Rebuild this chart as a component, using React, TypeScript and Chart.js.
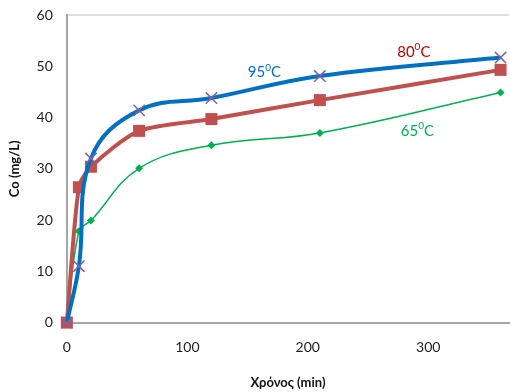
import React, { useEffect, useRef } from "react";
import { Chart, registerables } from "chart.js";

Chart.register(...registerables);

const times = [0, 10, 20, 60, 120, 210, 360];
const c95 = [0, 11, 32, 41.4, 43.8, 48.1, 51.7];
const c80 = [0, 26.4, 30.4, 37.4, 39.7, 43.4, 49.3];
const c65 = [0, 17.8, 19.9, 30.1, 34.6, 37.0, 44.9];
const seriesLabels = ["95", "80", "65"];
const yTicks = [0, 10, 20, 30, 40, 50, 60];
const xTickLabels = [0, 100, 200, 300];

const FONT = "Lato, 'Open Sans', sans-serif";

const labelPlugin = {
  id: "seriesLabels",
  afterDatasetsDraw(chart: any) {
    const { ctx, scales } = chart;
    const xs = scales.x;
    const ys = scales.y;
    const items = [
      { t: seriesLabels[0], x: 164, y: 48.8, color: "#0070C0" },
      { t: seriesLabels[1], x: 288, y: 52.8, color: "#C00000" },
      { t: seriesLabels[2], x: 291, y: 37.4, color: "#00B050" },
    ];
    ctx.save();
    items.forEach((it) => {
      const px = xs.getPixelForValue(it.x);
      const py = ys.getPixelForValue(it.y);
      const big = `15px ${FONT}`;
      const small = `10px ${FONT}`;
      ctx.font = big;
      const w1 = ctx.measureText(it.t).width;
      const w3 = ctx.measureText("C").width;
      ctx.font = small;
      const w2 = ctx.measureText("0").width;
      const total = w1 + w2 + w3;
      let x = px - total / 2;
      ctx.fillStyle = it.color;
      ctx.textBaseline = "middle";
      ctx.textAlign = "left";
      ctx.font = big;
      ctx.fillText(it.t, x, py);
      x += w1;
      ctx.font = small;
      ctx.fillText("0", x, py - 5);
      x += w2;
      ctx.font = big;
      ctx.fillText("C", x, py);
    });
    ctx.restore();
  },
};

export default function App() {
  const ref = useRef<HTMLCanvasElement>(null);
  useEffect(() => {
    document.body.style.margin = "0";
    const toPts = (arr: number[]) => times.map((t, i) => ({ x: t, y: arr[i] }));
    const chart = new Chart(ref.current!, {
      type: "line",
      data: {
        datasets: [
          {
            data: toPts(c95),
            borderColor: "#0070C0",
            borderWidth: 4,
            tension: 0.4,
            pointStyle: "crossRot",
            pointRadius: 8,
            pointBorderColor: "#7F63A1",
            pointBackgroundColor: "#7F63A1",
            pointBorderWidth: 1.5,
          },
          {
            data: toPts(c80),
            borderColor: "#C0504D",
            borderWidth: 4,
            tension: 0.25,
            pointStyle: "rect",
            pointRadius: 8.5,
            pointBorderColor: "#C0504D",
            pointBackgroundColor: "#C0504D",
            pointBorderWidth: 0,
          },
          {
            data: toPts(c65),
            borderColor: "#00B050",
            borderWidth: 1.5,
            tension: 0.4,
            pointStyle: "rectRot",
            pointRadius: 4,
            pointBorderColor: "#00B050",
            pointBackgroundColor: "#00B050",
            pointBorderWidth: 0,
          },
        ],
      },
      options: {
        responsive: false,
        animation: false,
        clip: false,
        layout: { autoPadding: false, padding: { left: 7, right: 1, top: 15, bottom: 1 } },
        plugins: {
          legend: { display: false },
          tooltip: { enabled: false },
        },
        scales: {
          x: {
            type: "linear",
            min: 0,
            max: 367,
            afterBuildTicks: (axis: any) => {
              axis.ticks = xTickLabels.map((v) => ({ value: v }));
            },
            afterFit: (scale: any) => {
              scale.paddingRight = 0;
            },
            grid: { display: false, drawTicks: false },
            border: { display: true, color: "#A6A6A6", width: 2 },
            ticks: {
              color: "#222",
              font: { family: FONT, size: 14 },
              padding: 16,
              maxRotation: 0,
            },
            title: {
              display: true,
              text: "Χρόνος (min)",
              color: "#111",
              font: { family: FONT, size: 13, weight: "bold" },
              padding: { top: 4, bottom: 0 },
            },
          },
          y: {
            min: 0,
            max: 60,
            afterBuildTicks: (axis: any) => {
              axis.ticks = yTicks.map((v) => ({ value: v }));
            },
            afterFit: (scale: any) => {
              scale.paddingTop = 0;
              scale.paddingBottom = 0;
            },
            grid: {
              drawTicks: false,
              color: (c: any) => (c.tick && c.tick.value === 60 ? "#E0E0E0" : "rgba(0,0,0,0)"),
              lineWidth: 2,
            },
            border: { display: true, color: "#A6A6A6", width: 2 },
            ticks: {
              color: "#222",
              font: { family: FONT, size: 14 },
              padding: 14,
            },
            title: {
              display: true,
              text: "Co (mg/L)",
              color: "#111",
              font: { family: FONT, size: 13, weight: "bold" },
              padding: { top: 0, bottom: 0 },
            },
          },
        },
      },
      plugins: [labelPlugin],
    } as any);
    return () => chart.destroy();
  }, []);
  return (
    <div style={{ width: 510, height: 392 }}>
      <canvas ref={ref} width={510} height={392} />
    </div>
  );
}
